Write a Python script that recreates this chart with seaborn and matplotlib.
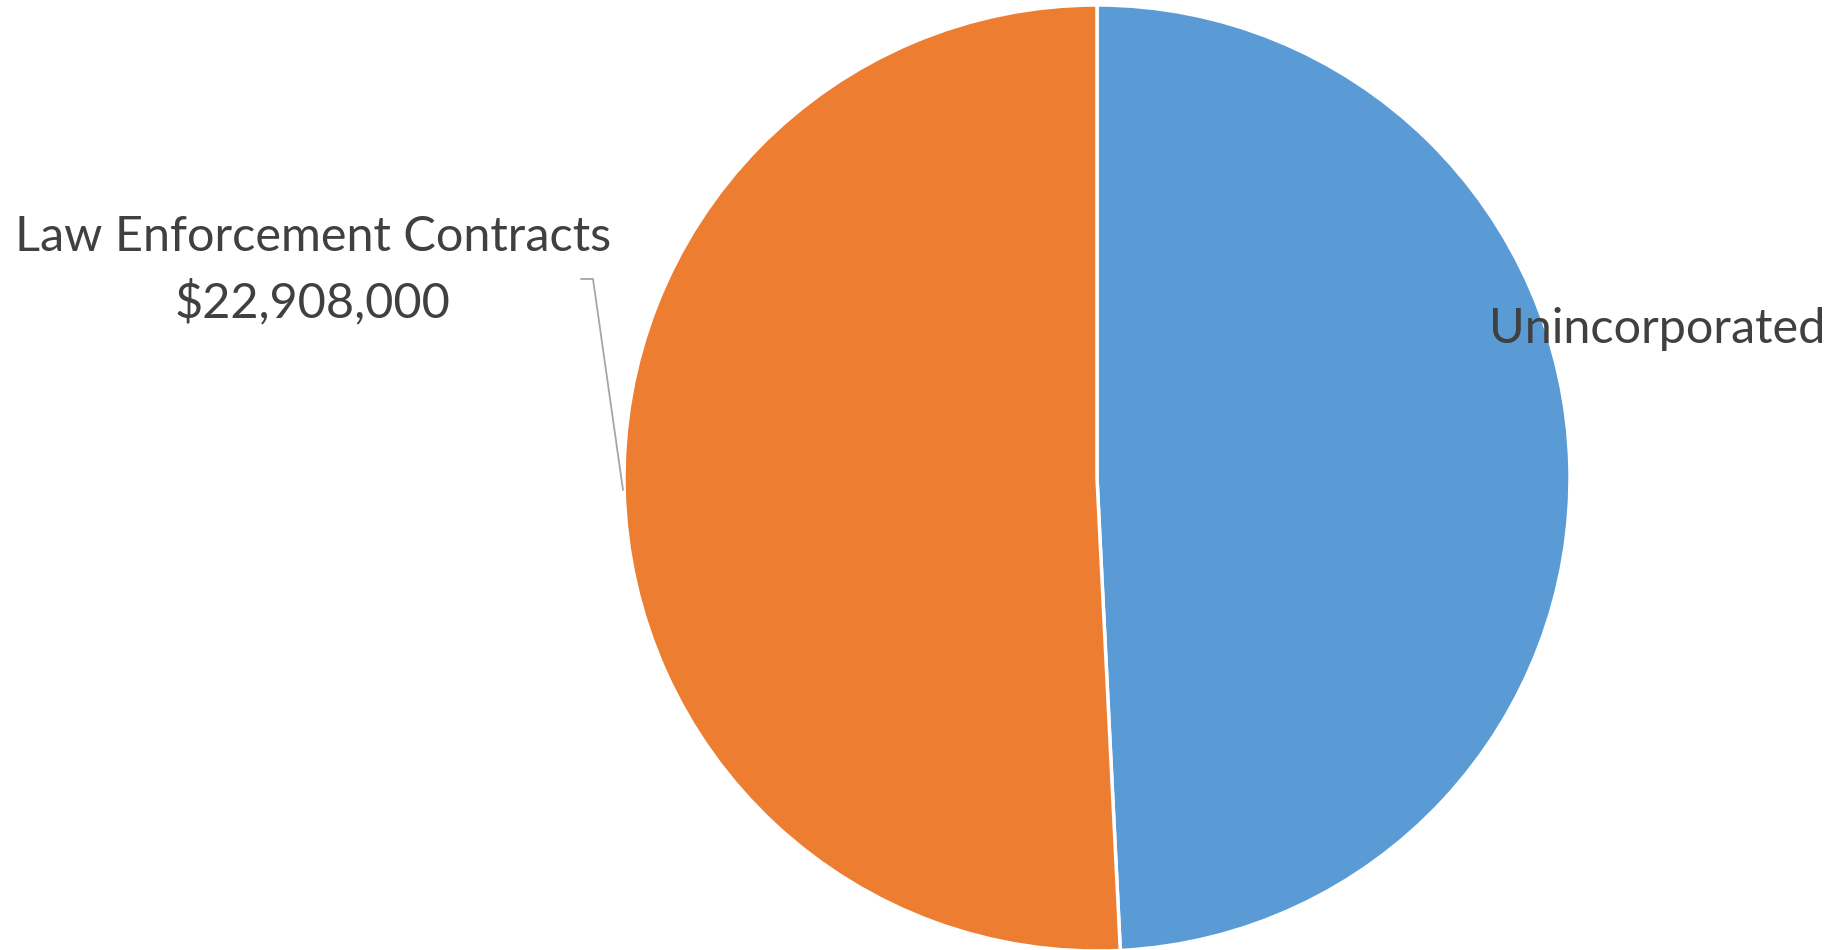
import numpy as np
import pandas as pd
import matplotlib
matplotlib.use("Agg")
import matplotlib.pyplot as plt
import seaborn as sns

categories = ["Unincorporated", "Law Enforcement Contracts"]
amounts = [22200000, 22908000]
slice_colors = ["#5B9BD5", "#ED7D31"]
show_value = [False, True]

sns.set_theme(style="white")
plt.rcParams['font.family'] = ['Lato', 'DejaVu Sans']

df = pd.DataFrame({"category": categories, "amount": amounts})

W, H = 1837, 950
fig = plt.figure(figsize=(W / 100, H / 100), dpi=100)
ax = fig.add_axes([0, 0, 1, 1])

# pie in pixel-like coordinates (y measured from the bottom)
cx, cy, r = 1097, H - 478, 473
wedges, _ = ax.pie(df["amount"], colors=slice_colors, startangle=90, counterclock=False,
                   center=(cx, cy), radius=r, frame=True,
                   wedgeprops=dict(edgecolor='white', linewidth=2.5))
ax.set_xlim(0, W)
ax.set_ylim(0, H)
ax.set_aspect('equal')
ax.axis('off')

txt_color = '#404040'
for cat, amt, sv in zip(df["category"], df["amount"], show_value):
    if sv:
        ax.text(313, H - 237, cat, ha='center', va='center', fontsize=35, color=txt_color)
        ax.text(313, H - 302, f"${amt:,.0f}", ha='center', va='center', fontsize=35, color=txt_color)
        ax.plot([581, 593, 623], [H - 279, H - 279, H - 490], color='#A6A6A6', lw=1.3)
    else:
        ax.text(1489, H - 329, cat, ha='left', va='center', fontsize=35, color=txt_color)

fig.savefig("out.png", dpi=100)
